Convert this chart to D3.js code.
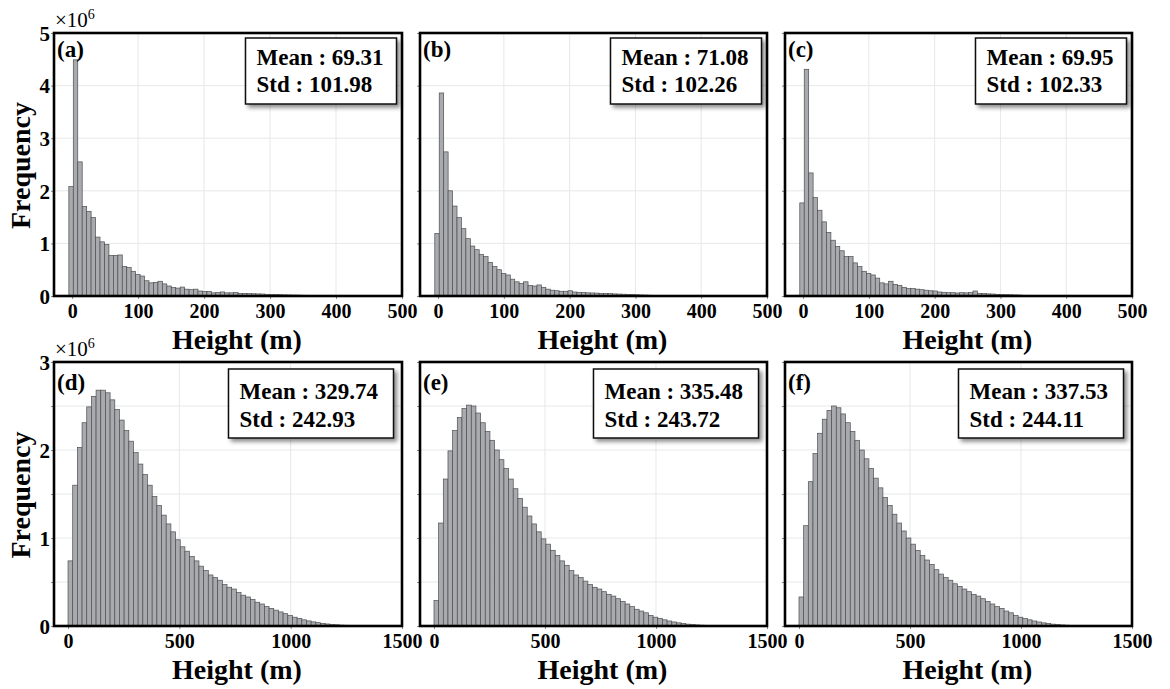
<!DOCTYPE html>
<html><head><meta charset="utf-8">
<script src="https://cdn.jsdelivr.net/npm/d3@7"></script>
<style>
body{margin:0;background:#fff;}
svg text{font-family:"Liberation Serif","Times New Roman",serif;font-weight:bold;fill:#000;}
</style></head><body>
<svg id="chart" width="1170" height="689"></svg>
<script>
// ---------- DATA ----------
const panelLabels = ["(a)","(b)","(c)","(d)","(e)","(f)"];
const means = ["69.31","71.08","69.95","329.74","335.48","337.53"];
const stds  = ["101.98","102.26","102.33","242.93","243.72","244.11"];

// frequencies in units of 10^6
const freqA = [2.08,4.49,2.55,1.70,1.61,1.49,1.12,1.03,0.98,0.77,0.77,0.78,0.56,0.54,0.47,0.41,0.38,0.29,0.25,0.26,0.28,0.23,0.19,0.16,0.15,0.17,0.13,0.12,0.13,0.095,0.085,0.085,0.06,0.065,0.077,0.06,0.06,0.065,0.05,0.05,0.045,0.043,0.04,0.038,0.032,0.03,0.026,0.025,0.022,0.02,0.018,0.017,0.014,0.012,0.01,0.008,0.006,0.005,0.004,0.003];
const freqB = [1.19,3.86,2.74,2.00,1.71,1.49,1.28,1.09,0.95,0.88,0.79,0.75,0.64,0.56,0.50,0.43,0.40,0.32,0.27,0.24,0.27,0.20,0.19,0.21,0.165,0.13,0.11,0.10,0.09,0.09,0.10,0.076,0.07,0.065,0.06,0.058,0.055,0.05,0.048,0.045,0.04,0.037,0.034,0.03,0.027,0.024,0.02,0.017,0.014,0.011,0.009,0.007,0.005,0.004,0.003,0.002,0.001];
const freqC = [1.77,4.31,2.34,1.87,1.63,1.41,1.21,1.06,0.94,0.86,0.75,0.75,0.63,0.56,0.47,0.43,0.40,0.34,0.25,0.23,0.28,0.22,0.20,0.165,0.14,0.14,0.13,0.12,0.11,0.10,0.095,0.076,0.07,0.063,0.063,0.057,0.063,0.06,0.065,0.095,0.05,0.045,0.04,0.038,0.032,0.03,0.025,0.023,0.02,0.018,0.013,0.011,0.009,0.006,0.005,0.004,0.003,0.002];
const freqD = [0.74,1.60,2.03,2.31,2.49,2.61,2.68,2.68,2.65,2.57,2.46,2.34,2.22,2.10,1.97,1.84,1.72,1.60,1.47,1.37,1.26,1.16,1.07,0.98,0.90,0.85,0.79,0.74,0.68,0.63,0.58,0.55,0.52,0.47,0.44,0.42,0.38,0.35,0.33,0.30,0.27,0.25,0.22,0.20,0.18,0.16,0.14,0.12,0.10,0.085,0.07,0.058,0.047,0.038,0.030,0.023,0.018,0.014,0.010,0.008,0.006,0.004,0.003,0.002,0.001];
const freqE = [0.29,1.17,1.67,1.99,2.22,2.37,2.47,2.51,2.50,2.42,2.31,2.21,2.11,2.00,1.89,1.79,1.67,1.56,1.45,1.35,1.25,1.16,1.07,0.99,0.93,0.86,0.80,0.74,0.69,0.63,0.58,0.55,0.51,0.47,0.44,0.42,0.39,0.36,0.34,0.31,0.28,0.25,0.22,0.19,0.17,0.15,0.12,0.10,0.085,0.07,0.057,0.046,0.036,0.028,0.021,0.016,0.012,0.009,0.006,0.004,0.003,0.002,0.001,0.001];
const freqF = [0.33,1.14,1.64,1.96,2.19,2.35,2.45,2.50,2.48,2.41,2.31,2.21,2.11,2.00,1.90,1.79,1.68,1.57,1.46,1.37,1.27,1.17,1.08,1.00,0.93,0.86,0.80,0.75,0.70,0.64,0.59,0.55,0.52,0.48,0.45,0.42,0.39,0.36,0.34,0.31,0.28,0.25,0.22,0.20,0.17,0.15,0.12,0.10,0.085,0.07,0.057,0.046,0.036,0.028,0.021,0.016,0.012,0.009,0.006,0.004,0.003,0.002,0.001,0.001];

// bins (metres)
const topBin = [-5, 6.75];     // [first edge, width]
const bottomBin = [0, 21];

const topXTicks = [0,100,200,300,400,500];
const bottomXTicks = [0,500,1000,1500];
const topYTicks = [0,1,2,3,4,5];
const bottomYTicks = [0,0.5,1,1.5,2,2.5,3];
const topXDomain = [-27.5, 500];
const bottomXDomain = [-63, 1500];
const topYDomain = [0, 5];
const bottomYDomain = [0, 3];

// ---------- LAYOUT ----------
const cols = [[54,402],[420,767],[785,1132]];
const rows = [[33,296],[362,626]];
const series = [freqA,freqB,freqC,freqD,freqE,freqF];

const svg = d3.select("#chart");
const defs = svg.append("defs");
const f = defs.append("filter").attr("id","shadow").attr("x","-10%").attr("y","-10%").attr("width","130%").attr("height","140%");
f.append("feDropShadow").attr("dx",3).attr("dy",3).attr("stdDeviation",2).attr("flood-color","#000").attr("flood-opacity",0.45);

series.forEach((vals, idx) => {
  const r = Math.floor(idx/3), c = idx%3;
  const [x0,x1] = cols[c], [y0,y1] = rows[r];
  const isTop = r===0;
  const x = d3.scaleLinear().domain(isTop?topXDomain:bottomXDomain).range([x0,x1]);
  const y = d3.scaleLinear().domain(isTop?topYDomain:bottomYDomain).range([y1,y0]);
  const xt = isTop?topXTicks:bottomXTicks;
  const yt = isTop?topYTicks:bottomYTicks;
  const bin = isTop?topBin:bottomBin;
  const g = svg.append("g");

  // grid
  g.append("g").selectAll("line.v").data(xt.filter(t=>t>0 && x(t)<x1-2)).join("line")
    .attr("x1",d=>x(d)).attr("x2",d=>x(d)).attr("y1",y0).attr("y2",y1)
    .attr("stroke","#e6e8e9").attr("stroke-width",1);
  g.append("g").selectAll("line.h").data(yt.filter(t=>t>0 && y(t)>y0+2)).join("line")
    .attr("x1",x0).attr("x2",x1).attr("y1",d=>y(d)).attr("y2",d=>y(d))
    .attr("stroke","#e6e8e9").attr("stroke-width",1);

  // bars
  g.append("g").selectAll("rect").data(vals).join("rect")
    .attr("x",(d,i)=>x(bin[0]+i*bin[1]))
    .attr("width",(d,i)=>x(bin[0]+(i+1)*bin[1]) - x(bin[0]+i*bin[1]))
    .attr("y",d=>y(d))
    .attr("height",d=>y(0)-y(d))
    .attr("fill","#a8aaad").attr("stroke","#4d4f52").attr("stroke-width",0.7);

  // axes
  const xa = g.append("g").attr("transform",`translate(0,${y1})`)
    .call(d3.axisBottom(x).tickValues(xt).tickSize(3).tickPadding(2).tickFormat(d3.format("d")));
  xa.select(".domain").remove();
  xa.selectAll(".tick line").attr("stroke","#888");
  xa.selectAll(".tick text").attr("dy",null).attr("y",22)
    .style("font-size","20px");

  const ya = g.append("g").attr("transform",`translate(${x0},0)`)
    .call(d3.axisLeft(y).tickValues(yt).tickSize(3)
      .tickFormat(d => (c===0 && Number.isInteger(d)) ? d3.format("d")(d) : ""));
  ya.select(".domain").remove();
  ya.selectAll(".tick line").attr("stroke","#888");
  ya.selectAll(".tick text").attr("x",-4).attr("dy","0.35em").style("font-size","21px");

  // frame
  g.append("rect").attr("x",x0).attr("y",y0).attr("width",x1-x0).attr("height",y1-y0)
    .attr("fill","none").attr("stroke","#000").attr("stroke-width",2.6);

  // panel label
  g.append("text").attr("x",x0+3).attr("y",y0+(isTop?24:28))
    .style("font-size","23px").text(panelLabels[idx]);

  // stats box
  const bw = isTop?151:165, bh = isTop?66:69;
  const bx = x1 - (isTop?5.5:8.5) - bw, by = y0 + (isTop?5:7);
  g.append("rect").attr("x",bx).attr("y",by).attr("width",bw).attr("height",bh)
    .attr("fill","#fff").attr("stroke","#111").attr("stroke-width",1.5)
    .attr("filter","url(#shadow)");
  g.append("text").attr("x",bx+11).attr("y",by+(isTop?27:30)).style("font-size","23px")
    .text("Mean : "+means[idx]);
  g.append("text").attr("x",bx+11).attr("y",by+(isTop?54:58)).style("font-size","23px")
    .text("Std : "+stds[idx]);

  // x title
  g.append("text").attr("x",(x0+x1)/2+9).attr("y",isTop?349:679)
    .attr("text-anchor","middle").style("font-size","28px").text("Height (m)");

  if (c===0) {
    g.append("text").attr("transform",`translate(30,${(y0+y1)/2+1}) rotate(-90)`)
      .attr("text-anchor","middle").style("font-size","28px").text("Frequency");
    const m = g.append("text").attr("x",x0+1).attr("y",y0-6)
      .style("font-size","21px").style("font-weight","normal");
    m.append("tspan").text("×10");
    m.append("tspan").attr("dy",-8).style("font-size","14px").text("6");
  }
});
</script>
</body></html>
